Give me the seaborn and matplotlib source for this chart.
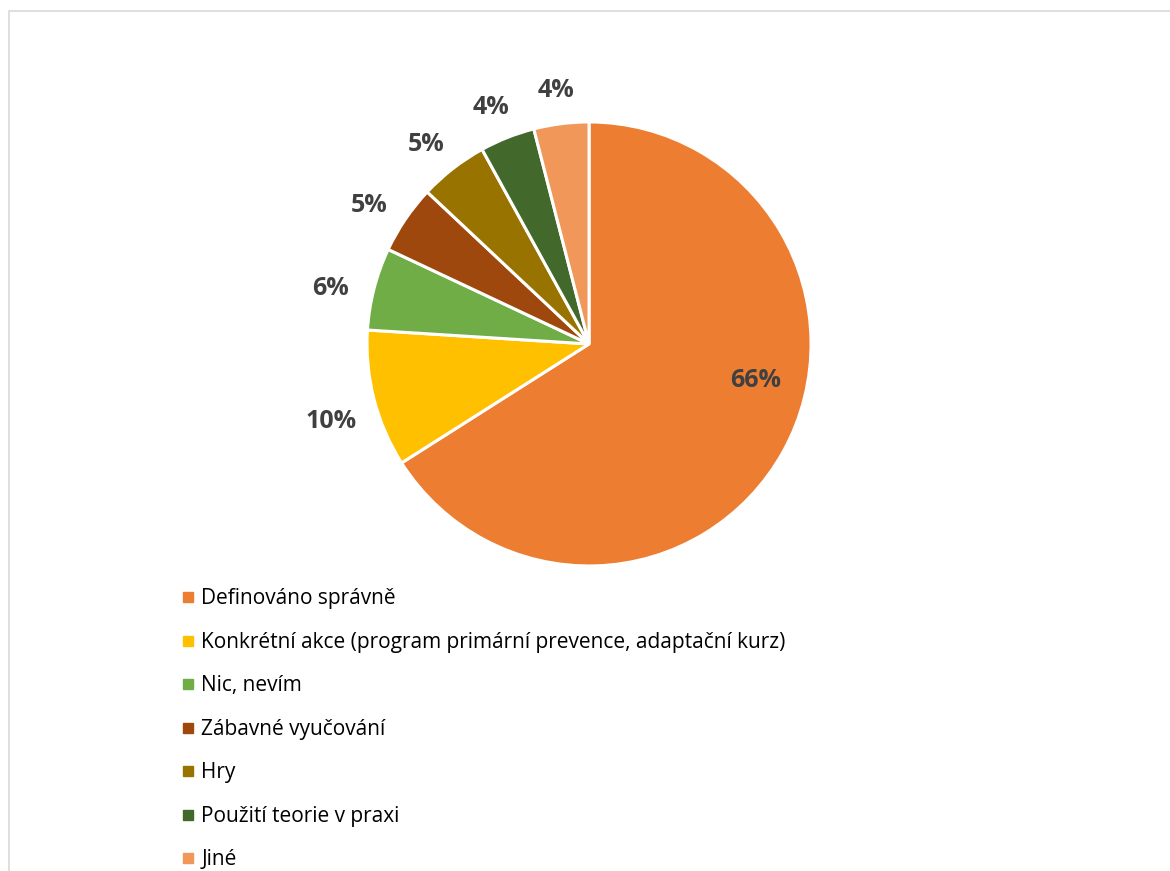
import numpy as np
import matplotlib
matplotlib.use("Agg")
import matplotlib.pyplot as plt
from matplotlib.lines import Line2D
from matplotlib.patches import Rectangle
import seaborn as sns

categories = [
    "Definováno správně",
    "Konkrétní akce (program primární prevence, adaptační kurz)",
    "Nic, nevím",
    "Zábavné vyučování",
    "Hry",
    "Použití teorie v praxi",
    "Jiné",
]
shares = [66, 10, 6, 5, 5, 4, 4]
colors = ["#ED7D31", "#FFC000", "#70AD47", "#9E480E", "#997300", "#43682B", "#F1975A"]

sns.set_theme(style="white")
plt.rcParams["font.family"] = ["Open Sans", "DejaVu Sans"]

fig = plt.figure(figsize=(11.7, 8.71), dpi=100)
fig.patch.set_facecolor("white")

# light frame around the chart area
fig.add_artist(Rectangle((9 / 1170, -0.05), 1.2, (871 - 11) / 871 + 0.05,
                         transform=fig.transFigure, fill=False,
                         edgecolor="#D9D9D9", linewidth=1.2))

ax = fig.add_axes([0.3137, 0.3502, 0.3795, 0.5098])
wedges, _ = ax.pie(shares, colors=colors, startangle=90, counterclock=False,
                   wedgeprops=dict(edgecolor="white", linewidth=2.2))
ax.set_aspect("equal")
ax.set_xlim(-1, 1)
ax.set_ylim(-1, 1)

# percentage labels: largest inside, the rest just outside the rim
for i, (w, v) in enumerate(zip(wedges, shares)):
    mid = np.deg2rad((w.theta1 + w.theta2) / 2)
    if i == 0:
        mid += np.deg2rad(17)
        r, dy = 0.765, -0.01
    else:
        r, dy = 1.2, -0.05
    ax.text(r * np.cos(mid), r * np.sin(mid) + dy, f"{v}%", ha="center", va="center",
            fontsize=18, fontweight="bold", color="#404040")

handles = [Line2D([0], [0], marker="s", linestyle="", markersize=6.5,
                  markerfacecolor=c, markeredgecolor=c) for c in colors]
fig.legend(handles, categories, loc="upper left",
           bbox_to_anchor=(171 / 1170, 1 - 580 / 871), frameon=False,
           fontsize=15, labelspacing=1.08, handlelength=0.8,
           handletextpad=0.25, borderaxespad=0, labelcolor="#000000")

fig.savefig("out.png", dpi=100, facecolor="white")
